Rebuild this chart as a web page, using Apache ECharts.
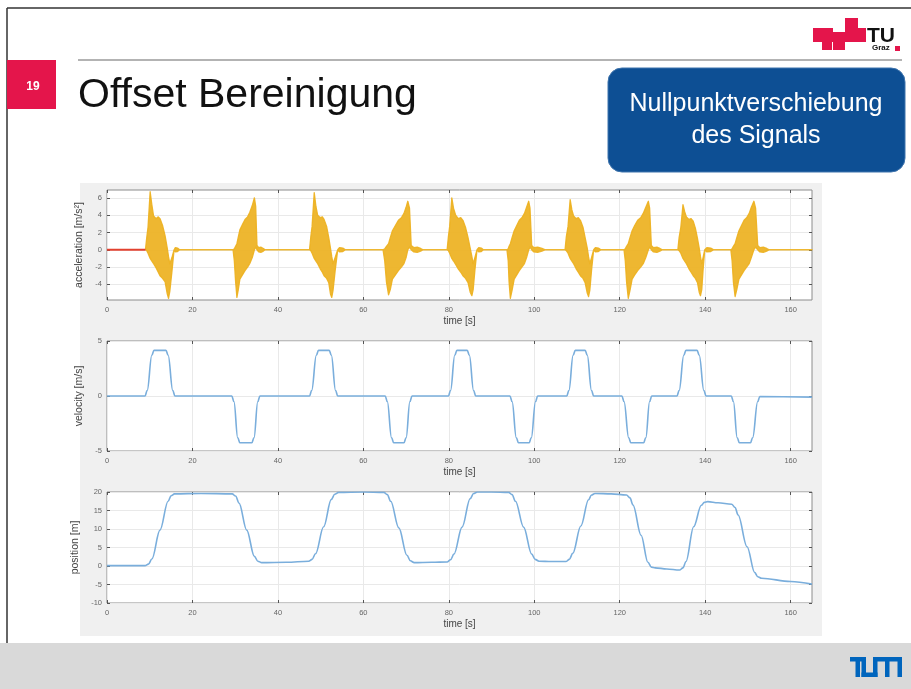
<!DOCTYPE html>
<html><head><meta charset="utf-8">
<script src="https://cdn.jsdelivr.net/npm/echarts@6/dist/echarts.min.js"></script>
<style>html,body{margin:0;padding:0;background:#fff;}#c{width:911px;height:689px;}</style>
</head><body><div id="c"></div>
<script>
// ---- tick labels ----
const timeTicks = [0, 20, 40, 60, 80, 100, 120, 140, 160];
const accTicks = [-4, -2, 0, 2, 4, 6];
const velTicks = [-5, 0, 5];
const posTicks = [-10, -5, 0, 5, 10, 15, 20];

// ---- acceleration: offset segment (red) ----
const offsetSegment = [[0, 0], [9.0, 0]];

// ---- acceleration bursts: [time, upper envelope, lower envelope] ----
const burst1 = [[9.0,0,0],[9.3,1.4,-0.1],[9.6,2.6,-0.4],[10.1,6.7,-1.0],[10.5,5.2,-1.3],[10.9,3.9,-1.6],[11.5,3.6,-2.1],[12.0,3.8,-2.6],[12.4,3.6,-3.0],[13.0,2.8,-3.3],[13.6,1.6,-3.7],[14.1,0.2,-5.1],[14.4,-0.8,-5.6],[14.7,-1.6,-4.8],[15.2,-0.9,-2.5],[15.7,0,0],[16.0,0.25,-0.25],[16.5,0.2,-0.2],[17.0,0,0]];
const burst2 = [[29.5,0,0],[29.8,0.1,-1.3],[30.1,0.4,-3.7],[30.4,0.7,-5.5],[30.7,1.4,-4.7],[31.1,2.3,-3.4],[31.7,2.9,-2.9],[32.3,3.5,-2.4],[32.9,3.8,-2.0],[33.4,4.3,-1.6],[34.0,5.1,-0.9],[34.5,6.0,0.0],[34.8,5.0,0.3],[35.1,0.5,0],[35.5,0.25,-0.25],[36.0,0.3,-0.3],[36.6,0.15,-0.15],[37.0,0,0]];
const burst3 = [[47.4,0,0],[47.7,1.5,-0.1],[48.0,2.7,-0.4],[48.5,6.6,-1.0],[48.9,5.0,-1.3],[49.3,4.0,-1.6],[49.9,3.7,-2.2],[50.4,3.8,-2.6],[50.8,3.5,-3.0],[51.4,2.7,-3.3],[51.9,1.4,-3.8],[52.3,0.2,-5.1],[52.6,-0.8,-5.5],[52.9,-1.6,-4.7],[53.4,-0.9,-2.4],[54.0,0,0],[54.4,0.25,-0.25],[55.2,0.2,-0.2],[55.8,0,0]];
const burst4 = [[64.6,0,0],[65.0,0.1,-1.3],[65.4,0.4,-3.7],[65.9,0.7,-5.2],[66.3,1.4,-4.6],[66.8,2.2,-3.4],[67.5,2.8,-2.9],[68.2,3.4,-2.4],[68.9,3.7,-2.0],[69.5,4.2,-1.6],[70.0,4.9,-0.9],[70.4,5.6,0.0],[70.8,4.8,0.3],[71.2,0.5,0],[71.8,0.25,-0.25],[72.6,0.3,-0.3],[73.4,0.15,-0.15],[74.0,0,0]];
const burst5 = [[79.6,0,0],[79.9,1.5,-0.1],[80.2,2.7,-0.4],[80.7,6.0,-1.0],[81.1,4.8,-1.3],[81.6,4.0,-1.7],[82.2,3.6,-2.2],[82.8,3.7,-2.6],[83.3,3.4,-3.0],[83.9,2.6,-3.3],[84.5,1.4,-3.8],[85.0,0.2,-4.9],[85.4,-0.8,-5.3],[85.7,-1.6,-4.6],[86.1,-0.9,-2.4],[86.6,0,0],[87.0,0.25,-0.25],[87.6,0.2,-0.2],[88.1,0,0]];
const burst6 = [[93.6,0,0],[93.9,0.1,-1.3],[94.1,0.4,-3.7],[94.4,0.7,-5.6],[94.8,1.4,-4.7],[95.3,2.2,-3.4],[95.9,2.8,-2.9],[96.5,3.4,-2.4],[97.1,3.7,-2.0],[97.7,4.2,-1.6],[98.2,4.9,-0.9],[98.7,5.6,0.0],[99.0,4.8,0.3],[99.4,0.5,0],[99.9,0.25,-0.25],[100.8,0.3,-0.3],[101.8,0.15,-0.15],[102.6,0,0]];
const burst7 = [[107.2,0,0],[107.5,1.5,-0.1],[107.9,2.7,-0.4],[108.4,5.8,-1.0],[108.8,4.6,-1.3],[109.2,3.9,-1.6],[109.8,3.6,-2.2],[110.3,3.7,-2.6],[110.8,3.4,-3.0],[111.4,2.6,-3.3],[111.9,1.4,-3.8],[112.4,0.2,-5.0],[112.7,-0.8,-5.4],[113.0,-1.6,-4.7],[113.4,-0.9,-2.4],[113.9,0,0],[114.3,0.25,-0.25],[115.0,0.2,-0.2],[115.6,0,0]];
const burst8 = [[121.0,0,0],[121.3,0.1,-1.3],[121.6,0.4,-3.7],[122.0,0.7,-5.6],[122.4,1.4,-4.7],[122.9,2.2,-3.4],[123.5,2.8,-2.9],[124.2,3.4,-2.4],[124.9,3.7,-2.0],[125.5,4.2,-1.6],[126.1,4.9,-0.9],[126.7,5.6,0.0],[127.0,4.8,0.3],[127.4,0.5,0],[127.9,0.25,-0.25],[128.7,0.3,-0.3],[129.4,0.15,-0.15],[130.0,0,0]];
const burst9 = [[133.6,0,0],[133.9,1.4,-0.1],[134.3,2.6,-0.4],[134.8,5.2,-1.0],[135.2,4.4,-1.3],[135.6,3.8,-1.6],[136.2,3.5,-2.2],[136.7,3.6,-2.6],[137.2,3.3,-3.0],[137.7,2.5,-3.3],[138.2,1.3,-3.8],[138.6,0.2,-4.9],[138.9,-0.8,-5.3],[139.2,-1.6,-4.6],[139.5,-0.9,-2.4],[139.9,0,0],[140.4,0.25,-0.25],[141.3,0.2,-0.2],[142.0,0,0]];
const burst10 = [[146.0,0,0],[146.3,0.1,-1.3],[146.6,0.4,-3.7],[147.0,0.7,-5.4],[147.4,1.4,-4.6],[147.9,2.2,-3.4],[148.5,2.8,-2.9],[149.1,3.4,-2.4],[149.7,3.7,-2.0],[150.3,4.2,-1.6],[150.8,4.9,-0.9],[151.4,5.6,0.0],[151.8,4.8,0.3],[152.3,0.5,0],[152.8,0.25,-0.25],[153.6,0.3,-0.3],[154.4,0.15,-0.15],[155.0,0,0]];
const accTail = [[165,0,0]];

// ---- velocity ----
const velT = [0,8.9,9.4,10.5,11.0,13.8,14.3,15.4,15.9,
  29.2,29.7,30.6,31.1,33.9,34.4,35.3,35.8,
  47.4,47.9,49.0,49.5,52.0,52.5,53.5,54.0,
  65.1,65.6,66.6,67.1,69.5,70.0,70.9,71.4,
  79.9,80.4,81.4,81.9,84.3,84.8,85.8,86.3,
  94.3,94.8,95.8,96.3,98.8,99.3,100.3,100.8,
  107.6,108.1,109.1,109.6,111.9,112.4,113.4,113.9,
  120.5,121.0,122.1,122.6,125.6,126.1,127.0,127.5,
  133.4,133.9,135.0,135.5,138.1,138.6,139.7,140.2,
  146.1,146.6,147.5,148.0,150.6,151.1,152.3,152.8,
  165];
const velV = [0,0,0.5,3.7,4.15,4.15,3.7,0.5,0,
  0,-0.5,-3.8,-4.25,-4.25,-3.8,-0.5,0,
  0,0.5,3.7,4.15,4.15,3.7,0.5,0,
  0,-0.5,-3.8,-4.25,-4.25,-3.8,-0.5,0,
  0,0.5,3.7,4.15,4.15,3.7,0.5,0,
  0,-0.5,-3.8,-4.25,-4.25,-3.8,-0.5,0,
  0,0.5,3.7,4.15,4.15,3.7,0.5,0,
  0,-0.5,-3.8,-4.25,-4.25,-3.8,-0.5,0,
  0,0.5,3.7,4.15,4.15,3.7,0.5,0,
  0,-0.5,-3.8,-4.25,-4.25,-3.8,-0.5,-0.05,
  -0.1];

// ---- position ----
const posT = [0,8.9,9.7,10.5,12.4,14.3,15.0,15.8,22,29.3,
  30.1,30.9,32.7,34.5,35.3,36.2,42,47.2,
  48.0,48.8,50.7,52.5,53.3,54.2,60,64.8,
  65.6,66.4,68.3,70.2,71.0,71.9,76,79.6,
  80.4,81.2,83.1,85.0,85.8,86.7,90,94.0,
  94.8,95.6,97.5,99.4,100.2,101.1,104,107.4,
  108.2,109.0,110.9,112.7,113.4,114.2,118,121.6,
  122.4,123.1,125.0,126.6,127.4,128.3,131,134.0,
  134.8,135.5,137.3,139.1,139.8,140.6,143,146.2,
  147.0,147.7,149.8,151.6,152.3,153.2,160,165];
const posP = [0.1,0.1,0.5,1.9,9.7,17.5,19.0,19.5,19.6,19.5,
  18.9,17.0,9.7,2.6,1.3,0.9,1.0,1.3,
  1.8,3.3,10.6,18.0,19.4,19.9,20.0,19.9,
  19.3,17.5,10.3,2.9,1.4,0.9,1.0,1.1,
  1.7,3.2,10.5,18.2,19.6,20.0,20.0,19.9,
  19.3,17.5,10.5,3.2,1.8,1.3,1.2,1.2,
  1.8,3.4,10.8,17.9,19.2,19.6,19.5,19.2,
  18.4,16.5,8.3,1.0,-0.3,-0.5,-0.8,-1.1,
  -0.5,1.2,10.6,16.4,17.2,17.4,17.1,16.7,
  15.8,13.8,5.2,-1.8,-2.9,-3.3,-4.2,-4.9];

// ---- build ----
const accRows = [].concat(burst1, burst2, burst3, burst4, burst5, burst6, burst7, burst8, burst9, burst10, accTail);
const velData = velT.map((t, i) => [t, velV[i]]);
const posData = posT.map((t, i) => [t, posP[i]]);

const FONT = '"Liberation Sans", Arial, sans-serif';
const BOX = '#8c8c8c';
const GRIDC = '#e9e9e9';

const grids = [
  {left: 107, top: 190, width: 705, height: 110},
  {left: 107, top: 341, width: 705, height: 110},
  {left: 107, top: 492, width: 705, height: 111}
].map(g => Object.assign(g, {show: true, backgroundColor: '#fff', borderColor: BOX, borderWidth: 1}));

const xAxes = [], yAxes = [];
const yDefs = [
  {min: -5.8, max: 6.9, ticks: accTicks, name: 'acceleration [m/s²]', gap: 13},
  {min: -5, max: 5, ticks: velTicks, name: 'velocity [m/s]', gap: 13},
  {min: -10, max: 20, ticks: posTicks, name: 'position [m]', gap: 15}
];
const tickStyle = {color: '#555', width: 1};
yDefs.forEach((d, g) => {
  xAxes.push({
    gridIndex: g, type: 'value', position: 'bottom', min: 0, max: 165,
    axisLine: {show: false, onZero: false},
    axisTick: {show: true, inside: true, length: 3, lineStyle: tickStyle, customValues: timeTicks},
    axisLabel: {show: true, fontSize: 7.5, color: '#666', margin: 6, fontFamily: FONT, customValues: timeTicks},
    splitLine: {show: true, lineStyle: {color: GRIDC, width: 1}},
    name: 'time [s]', nameLocation: 'middle', nameGap: 16,
    nameTextStyle: {fontSize: 10, color: '#444', fontFamily: FONT}
  });
  xAxes.push({
    gridIndex: g, type: 'value', position: 'top', min: 0, max: 165,
    axisLine: {show: false, onZero: false},
    axisTick: {show: true, inside: true, length: 3, lineStyle: tickStyle, customValues: timeTicks},
    axisLabel: {show: false}, splitLine: {show: false}
  });
  yAxes.push({
    gridIndex: g, type: 'value', position: 'left', min: d.min, max: d.max,
    axisLine: {show: false, onZero: false},
    axisTick: {show: true, inside: true, length: 3, lineStyle: tickStyle, customValues: d.ticks},
    axisLabel: {show: true, fontSize: 7.5, color: '#666', margin: 5, fontFamily: FONT, customValues: d.ticks},
    splitLine: {show: true, lineStyle: {color: GRIDC, width: 1}},
    name: d.name, nameLocation: 'middle', nameGap: d.gap, nameRotate: 90,
    nameTextStyle: {fontSize: 10.5, color: '#444', fontFamily: FONT}
  });
  yAxes.push({
    gridIndex: g, type: 'value', position: 'right', min: d.min, max: d.max,
    axisLine: {show: false, onZero: false},
    axisTick: {show: true, inside: true, length: 3, lineStyle: tickStyle, customValues: d.ticks},
    axisLabel: {show: false}, splitLine: {show: false}
  });
});

const ORANGE = '#EDB120';
const BLUE = '#7aaedc';

const series = [
  {type: 'custom', name: 'acc', coordinateSystem: 'cartesian2d', xAxisIndex: 0, yAxisIndex: 0,
   data: [[0, 0]], z: 3, silent: true,
   renderItem: function (params, api) {
     const upper = accRows.map(r => api.coord([r[0], r[1]]));
     const lower = accRows.slice().reverse().map(r => api.coord([r[0], r[2]]));
     return {type: 'polygon', shape: {points: upper.concat(lower)},
       style: {fill: ORANGE, opacity: 0.92, stroke: ORANGE, lineWidth: 1.3, lineJoin: 'round'}};
   }},
  {type: 'line', name: 'offset', xAxisIndex: 0, yAxisIndex: 0, data: offsetSegment, symbol: 'none',
   lineStyle: {color: '#e2412f', width: 2}, z: 4},
  {type: 'line', name: 'velocity', xAxisIndex: 2, yAxisIndex: 2, data: velData, symbol: 'none',
   smooth: 0.4, smoothMonotone: 'x', lineStyle: {color: BLUE, width: 1.6}, z: 3},
  {type: 'line', name: 'position', xAxisIndex: 4, yAxisIndex: 4, data: posData, symbol: 'none',
   smooth: 0.35, smoothMonotone: 'x', lineStyle: {color: BLUE, width: 1.6}, z: 3}
];

const graphic = [
  {type: 'rect', z: -100, shape: {x: 80, y: 183, width: 742, height: 453}, style: {fill: '#f0f0f0'}},
  {type: 'rect', z: -100, shape: {x: 0, y: 643, width: 911, height: 46}, style: {fill: '#d9d9d9'}},
  {type: 'line', z: 100, shape: {x1: 7, y1: 8, x2: 911, y2: 8}, style: {stroke: '#333', lineWidth: 1.5}},
  {type: 'line', z: 100, shape: {x1: 7, y1: 8, x2: 7, y2: 643}, style: {stroke: '#333', lineWidth: 1.5}},
  {type: 'line', z: 100, shape: {x1: 78, y1: 60, x2: 902, y2: 60}, style: {stroke: '#9a9a9a', lineWidth: 1.5}},
  {type: 'rect', z: 100, shape: {x: 7, y: 60, width: 49, height: 49}, style: {fill: '#e4154b'}},
  {type: 'text', z: 101, style: {x: 33, y: 87, text: '19', fill: '#fff', font: 'bold 12px ' + FONT, align: 'center', verticalAlign: 'middle'}},
  {type: 'text', z: 100, style: {x: 78, y: 96, text: 'Offset Bereinigung', fill: '#111', font: '41px ' + FONT, align: 'left', verticalAlign: 'middle'}},
  {type: 'rect', z: 100, shape: {x: 813, y: 28, width: 20, height: 14}, style: {fill: '#e4154b'}},
  {type: 'rect', z: 100, shape: {x: 822, y: 42, width: 10, height: 8}, style: {fill: '#e4154b'}},
  {type: 'rect', z: 100, shape: {x: 833, y: 32, width: 12, height: 18}, style: {fill: '#e4154b'}},
  {type: 'rect', z: 100, shape: {x: 845, y: 18, width: 13, height: 24}, style: {fill: '#e4154b'}},
  {type: 'rect', z: 100, shape: {x: 858, y: 28, width: 8, height: 14}, style: {fill: '#e4154b'}},
  {type: 'text', z: 100, style: {x: 867, y: 36, text: 'TU', fill: '#111', font: 'bold 21px ' + FONT, align: 'left', verticalAlign: 'middle'}},
  {type: 'text', z: 100, style: {x: 872, y: 48, text: 'Graz', fill: '#111', font: 'bold 8px ' + FONT, align: 'left', verticalAlign: 'middle'}},
  {type: 'rect', z: 100, shape: {x: 895, y: 46, width: 5, height: 5}, style: {fill: '#e4154b'}},
  {type: 'rect', z: 100, shape: {x: 608, y: 68, width: 297, height: 104, r: 14}, style: {fill: '#0d4f94', stroke: '#3f74ad', lineWidth: 1}},
  {type: 'text', z: 101, style: {x: 756, y: 104, text: 'Nullpunktverschiebung', fill: '#fff', font: '25px ' + FONT, align: 'center', verticalAlign: 'middle'}},
  {type: 'text', z: 101, style: {x: 756, y: 136, text: 'des Signals', fill: '#fff', font: '25px ' + FONT, align: 'center', verticalAlign: 'middle'}},
  {type: 'rect', z: 100, shape: {x: 850, y: 657, width: 16, height: 4.5}, style: {fill: '#0065bd'}},
  {type: 'rect', z: 100, shape: {x: 855.5, y: 657, width: 4.5, height: 20}, style: {fill: '#0065bd'}},
  {type: 'rect', z: 100, shape: {x: 861.5, y: 657, width: 4.5, height: 20}, style: {fill: '#0065bd'}},
  {type: 'rect', z: 100, shape: {x: 861.5, y: 672.5, width: 16, height: 4.5}, style: {fill: '#0065bd'}},
  {type: 'rect', z: 100, shape: {x: 873, y: 657, width: 4.5, height: 20}, style: {fill: '#0065bd'}},
  {type: 'rect', z: 100, shape: {x: 873, y: 657, width: 29, height: 4.5}, style: {fill: '#0065bd'}},
  {type: 'rect', z: 100, shape: {x: 885, y: 657, width: 4.5, height: 20}, style: {fill: '#0065bd'}},
  {type: 'rect', z: 100, shape: {x: 897.5, y: 657, width: 4.5, height: 20}, style: {fill: '#0065bd'}}
];

const chart = echarts.init(document.getElementById('c'), null, {renderer: 'canvas'});
chart.setOption({
  animation: false,
  backgroundColor: '#fff',
  textStyle: {fontFamily: FONT},
  grid: grids,
  xAxis: xAxes,
  yAxis: yAxes,
  series: series,
  graphic: graphic
});
</script></body></html>
